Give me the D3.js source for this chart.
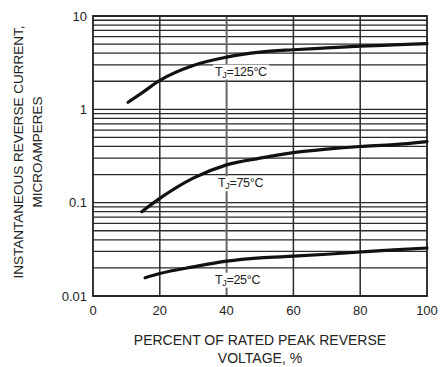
<!DOCTYPE html>
<html>
<head>
<meta charset="utf-8">
<script src="https://cdn.jsdelivr.net/npm/d3@7"></script>
<style>
  body { margin: 0; background: #fff; }
  text { font-family: "Liberation Sans", Arial, sans-serif; fill: #222; }
</style>
</head>
<body>
<div id="chart"></div>
<script>
// percent of rated peak reverse voltage
const pct125 = [10.5, 15, 20, 30, 40, 50, 60, 70, 80, 90, 100];
const amp125 = [1.19, 1.53, 2.04, 2.95, 3.62, 4.1, 4.35, 4.55, 4.75, 4.9, 5.06];

const pct75 = [14.6, 20, 30, 40, 50, 60, 70, 80, 90, 100];
const amp75 = [0.08, 0.111, 0.183, 0.254, 0.3, 0.344, 0.375, 0.4, 0.418, 0.451];

const pct25 = [15.6, 20, 30, 40, 50, 60, 70, 80, 90, 100];
const amp25 = [0.0157, 0.0174, 0.0205, 0.0236, 0.0256, 0.0267, 0.028, 0.0296, 0.0312, 0.0327];

const curveLabels = ['125°C', '75°C', '25°C'];
const labelPct = [36.5, 37.4, 36.5];
const labelAmp = [2.56, 0.163, 0.0151];

const xTicks = [0, 20, 40, 60, 80, 100];
const yTicks = [0.01, 0.1, 1, 10];
const yTickLabels = ['0.01', '0.1', '1', '10'];

const svg = d3.select('#chart').append('svg')
    .attr('width', 442)
    .attr('height', 367);

const margin = {top: 16, right: 15, bottom: 71, left: 93};
const width = 442 - margin.left - margin.right;
const height = 367 - margin.top - margin.bottom;

const x = d3.scaleLinear().domain([0, 100]).range([0, width]);
const y = d3.scaleLog().domain([0.01, 10]).range([height, 0]);

const g = svg.append('g')
    .attr('transform', 'translate(' + margin.left + ',' + margin.top + ')');

// horizontal log grid
g.append('g').selectAll('line')
    .data(y.ticks())
    .join('line')
    .attr('x1', 0)
    .attr('x2', width)
    .attr('y1', d => y(d))
    .attr('y2', d => y(d))
    .attr('stroke', '#2a2a2a')
    .attr('stroke-width', 1.3);

// vertical grid
g.append('g').selectAll('line')
    .data(xTicks.slice(1, -1))
    .join('line')
    .attr('x1', d => x(d))
    .attr('x2', d => x(d))
    .attr('y1', 0)
    .attr('y2', height)
    .attr('stroke', d => d === 40 ? '#666' : '#2a2a2a')
    .attr('stroke-width', d => d === 40 ? 2 : 1.5);

// frame
g.append('rect')
    .attr('width', width)
    .attr('height', height)
    .attr('fill', 'none')
    .attr('stroke', '#222')
    .attr('stroke-width', 1.8);

const line = d3.line()
    .x(d => x(d[0]))
    .y(d => y(d[1]))
    .curve(d3.curveMonotoneX);

const series = [
  d3.zip(pct125, amp125),
  d3.zip(pct75, amp75),
  d3.zip(pct25, amp25)
];

// temperature labels with white backing
curveLabels.forEach((lab, i) => {
  const lg = g.append('g')
      .attr('transform', 'translate(' + x(labelPct[i]) + ',' + y(labelAmp[i]) + ')');
  const bg = lg.append('rect').attr('fill', '#fff');
  const t = lg.append('text')
      .attr('font-size', '12.5px')
      .attr('dy', '0.35em')
      .attr('letter-spacing', '-0.3');
  t.append('tspan').text('T');
  t.append('tspan').attr('font-size', '9px').attr('dy', '2').text('J');
  t.append('tspan').attr('dy', '-2').text('=' + lab);
  const bb = t.node().getBBox();
  bg.attr('x', bb.x - 2).attr('y', bb.y).attr('width', bb.width + 4).attr('height', bb.height);
});

g.append('g').selectAll('path')
    .data(series)
    .join('path')
    .attr('d', line)
    .attr('fill', 'none')
    .attr('stroke', '#111')
    .attr('stroke-width', 3.2)
    .attr('stroke-linecap', 'round');

// tick labels
g.append('g').selectAll('text')
    .data(xTicks)
    .join('text')
    .attr('x', d => x(d))
    .attr('y', height + 19)
    .attr('text-anchor', 'middle')
    .attr('font-size', '13px')
    .text(d => d);

g.append('g').selectAll('text')
    .data(yTicks)
    .join('text')
    .attr('x', -6)
    .attr('y', d => y(d))
    .attr('dy', '0.36em')
    .attr('text-anchor', 'end')
    .attr('font-size', '13px')
    .text((d, i) => yTickLabels[i]);

// axis titles
const xt = svg.append('text')
    .attr('text-anchor', 'middle')
    .attr('font-size', '14px');
xt.append('tspan').attr('x', margin.left + width / 2).attr('y', 345)
    .text('PERCENT OF RATED PEAK REVERSE');
xt.append('tspan').attr('x', margin.left + width / 2).attr('y', 363)
    .text('VOLTAGE, %');

const yt = svg.append('text')
    .attr('text-anchor', 'middle')
    .attr('font-size', '13.5px')
    .attr('transform', 'translate(0,152) rotate(-90)');
yt.append('tspan').attr('x', 0).attr('y', 23)
    .text('INSTANTANEOUS REVERSE CURRENT,');
yt.append('tspan').attr('x', 0).attr('y', 42)
    .text('MICROAMPERES');
</script>
</body>
</html>
